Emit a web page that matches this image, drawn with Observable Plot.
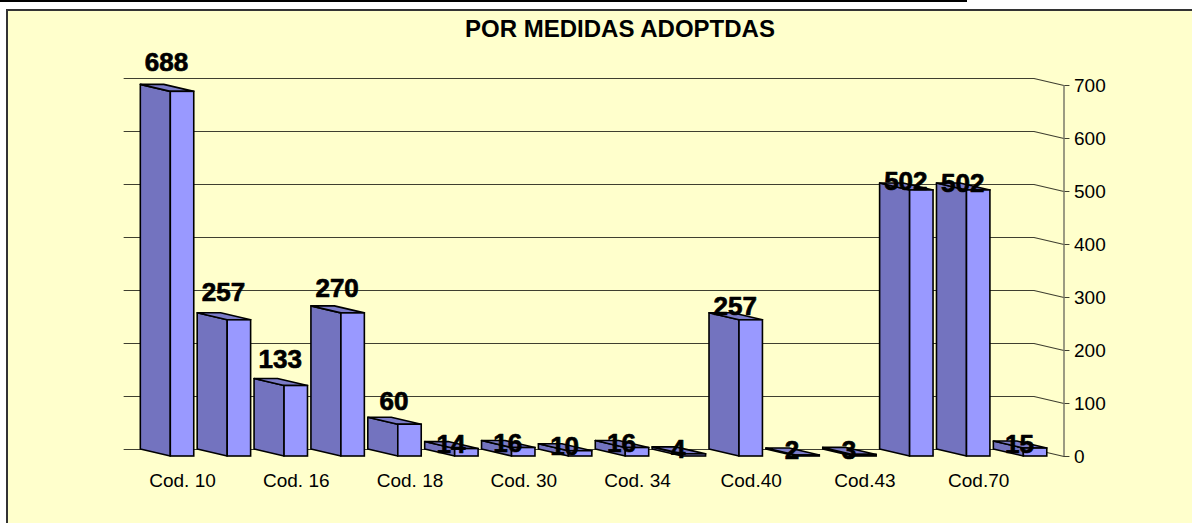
<!DOCTYPE html>
<html><head><meta charset="utf-8">
<script src="https://cdn.jsdelivr.net/npm/d3@7"></script>
<script src="https://cdn.jsdelivr.net/npm/@observablehq/plot@0.6"></script>
<style>
html,body{margin:0;padding:0;background:#fff;width:1192px;height:523px;overflow:hidden;font-family:"Liberation Sans",Arial,sans-serif;}
#topline{position:absolute;left:0;top:0;width:967px;height:2px;background:#000;}
#frame{position:absolute;left:6px;top:9px;width:1200px;height:530px;background:#FFFFCC;border-left:2px solid #333;border-top:2px solid #333;}
#title{position:absolute;left:420px;top:17px;width:400px;text-align:center;font-weight:bold;font-size:24px;line-height:24px;color:#000;}
#chart{position:absolute;left:0;top:0;}
</style></head><body>
<div id="topline"></div><div id="frame"></div>
<div id="chart"></div>
<div id="title">POR MEDIDAS ADOPTDAS</div>
<script>
// Categories (only every other label is shown in the original chart)
const categories = ["Cod. 10","","Cod. 16","","Cod. 18","","Cod. 30","","Cod. 34","","Cod.40","","Cod.43","","Cod.70",""];
const values = [688,257,133,270,60,14,16,10,16,4,257,2,3,502,502,15];
const yTicks = [0,100,200,300,400,500,600,700];

const step = 56.87;              // px per category
const pxPerUnit = 371/700;       // px per value unit
const depthX = 30/step;          // 3D depth in x (index units)
const depthY = 7/pxPerUnit;      // 3D depth in y (value units)
const hw = 0.206;                // half width of the front face (index units)
const xMax = categories.length - 0.5;

const bars = values.map((v,i)=>({i, v, label: categories[i]}));
const side = bars.flatMap(d=>[
  {i:d.i, x:d.i-hw-depthX, y1:depthY, y2:d.v+depthY},
  {i:d.i, x:d.i-hw, y1:0, y2:d.v}
]);
const topFace = bars.flatMap(d=>[
  {i:d.i, y:d.v, x1:d.i-hw, x2:d.i+hw},
  {i:d.i, y:d.v+depthY, x1:d.i-hw-depthX, x2:d.i+hw-depthX}
]);
const grid = yTicks.flatMap(t=>[
  {t, x:-0.5-depthX, y:t+depthY},
  {t, x:xMax-depthX, y:t+depthY},
  {t, x:xMax, y:t},
  {t, x:xMax+5/step, y:t}
]);
// label lift above the bar's front top (px), mimicking the 3D label placement
const lift = d => d.v < 30 ? -4 : 21 - 1.6*d.i;

const chart = Plot.plot({
  width:1192, height:523,
  marginLeft:153.6, marginRight:128.5, marginTop:85, marginBottom:67,
  x:{type:"linear", domain:[-0.5, xMax], axis:null},
  y:{domain:[0,700], axis:null},
  style:{background:"transparent", fontFamily:"'Liberation Sans', Arial, sans-serif", overflow:"visible"},
  marks:[
    Plot.line(grid, {x:"x", y:"y", z:"t", stroke:"#3f3f30", strokeWidth:1.2}),
    Plot.ruleX([xMax], {y1:d=>0, y2:d=>700, stroke:"#7a7a6a", strokeWidth:1.5}),
    Plot.text(yTicks, {x:d=>xMax, y:d=>d, text:d=>String(d), dx:10, textAnchor:"start", fontSize:19, fill:"#000"}),
    Plot.areaY(side, {x:"x", y1:"y1", y2:"y2", z:"i", fill:"#7373BF", stroke:"#000", strokeWidth:1.6, curve:"linear"}),
    Plot.areaX(topFace, {y:"y", x1:"x1", x2:"x2", z:"i", fill:"#7B7BC8", stroke:"#000", strokeWidth:1.6, curve:"linear"}),
    Plot.rectY(bars, {x1:d=>d.i-hw, x2:d=>d.i+hw, y1:d=>0, y2:"v", fill:"#9999FF", stroke:"#000", strokeWidth:1.6}),
    Plot.text(bars.filter(d=>d.label), {x:"i", y:d=>0, text:"label", dy:24, fontSize:19, fill:"#000"}),
    Plot.text(bars, {x:"i", y:d=>d.v+lift(d)/pxPerUnit, text:d=>String(d.v), dx:-16, lineAnchor:"bottom", fontSize:26, fontWeight:"bold", fill:"#000", stroke:"#000", strokeWidth:0.7})
  ]
});
document.getElementById("chart").appendChild(chart);
</script>
</body></html>
